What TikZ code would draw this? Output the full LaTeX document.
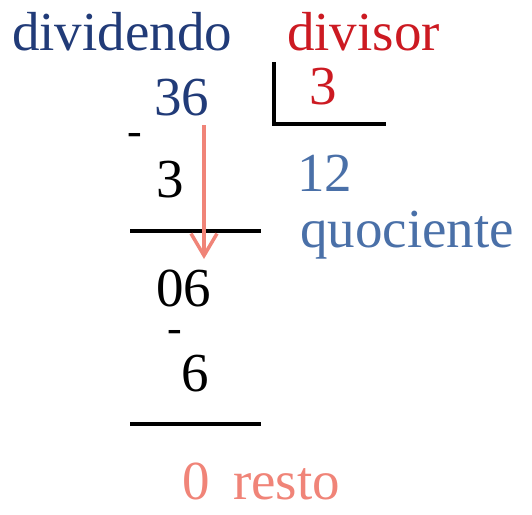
\documentclass[tikz,border=0pt]{standalone}
\usepackage{fontspec}
\setmainfont{Liberation Serif}
\usetikzlibrary{arrows.meta}
\definecolor{darkblue}{HTML}{213B78}
\definecolor{divred}{HTML}{CC1A22}
\definecolor{quoblue}{HTML}{4A70A8}
\definecolor{salmon}{HTML}{F08478}
\tikzstyle{num} = [inner sep=0pt,anchor=base west,font=\fontsize{55}{60}\selectfont]
\tikzstyle{minus} = [inner sep=0pt,anchor=base west,font=\fontsize{44}{48}\selectfont]
\tikzstyle{bar} = [line width=4pt]

\begin{document}
\begin{tikzpicture}[x=1pt,y=-1pt]
	\useasboundingbox (0,0) rectangle (532,514);

	\node[num,text=darkblue](dividendo) at (12,50) {dividendo};
	\node[num,text=divred](divisor) at (287,50) {divisor};
	\node[num,text=darkblue](dividend) at (154,115) {36};
	\node[num,text=divred](divider) at (309,104) {3};
	\node[minus](minusa) at (127,145) {-};
	\node[num](sub) at (156,197) {3};
	\node[num,text=quoblue](quotient) at (297,191) {12};
	\node[num,text=quoblue](quociente) at (300,247) {quociente};
	\node[num](partial) at (156,306) {06};
	\node[minus](minusb) at (167,342) {-};
	\node[num](subb) at (181,391) {6};
	\node[num,text=salmon](rest) at (182,499) {0};
	\node[num,text=salmon](resto) at (233,499) {resto};

	\coordinate (bracktop) at (274,62);
	\coordinate (brackcorner) at (274,124);
	\coordinate (brackend) at (386,124);
	\draw[bar] (bracktop) -- (brackcorner) -- (brackend);

	\coordinate (linea) at (130,231);
	\coordinate (lineb) at (261,231);
	\draw[bar] (linea) -- (lineb);
	\coordinate (linec) at (130,424);
	\coordinate (lined) at (261,424);
	\draw[bar] (linec) -- (lined);

	\coordinate (arrowstart) at (204,125);
	\coordinate (arrowend) at (204,259);
	\draw[salmon,line width=3.5pt,-{Straight Barb[length=22pt,width=26pt]}] (arrowstart) -- (arrowend);

\end{tikzpicture}
\end{document}
